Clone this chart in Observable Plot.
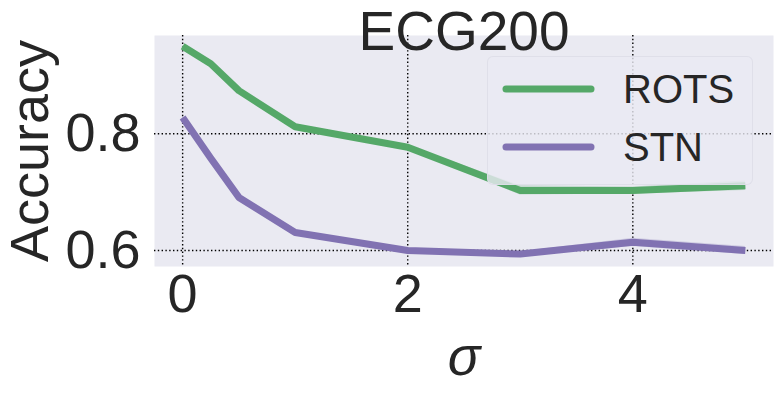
<!DOCTYPE html>
<html>
<head>
<meta charset="utf-8">
<script src="https://cdn.jsdelivr.net/npm/d3@7"></script>
<script src="https://cdn.jsdelivr.net/npm/@observablehq/plot@0.6"></script>
<style>
  html, body { margin: 0; padding: 0; background: #fff; }
  #wrap { position: relative; width: 783px; height: 393px; font-family: "Liberation Sans", Arial, sans-serif; color: #262626; }
  #legend { position: absolute; left: 487px; top: 56px; width: 264px; height: 127px;
    background: rgba(234,234,242,0.8); border: 1px solid rgba(222,222,232,0.9); border-radius: 6px; }
  .item { position: absolute; left: 0; height: 58px; width: 264px; }
  .item svg { position: absolute; left: 0; top: 0; }
  .item span { position: absolute; left: 135px; font-size: 40px; line-height: 40px; }
</style>
</head>
<body>
<div id="wrap"></div>
<script>
const sigma = [0, 0.25, 0.5, 1, 2, 3, 4, 5];
const rots = [0.950, 0.920, 0.874, 0.812, 0.777, 0.703, 0.703, 0.711];
const stn = [0.828, 0.758, 0.691, 0.631, 0.600, 0.594, 0.614, 0.600];
const rotsErr = [0.002, 0.002, 0.002, 0.002, 0.003, 0.008, 0.006, 0.008];
const stnErr = [0.002, 0.002, 0.002, 0.002, 0.003, 0.004, 0.007, 0.007];
const seriesNames = ["ROTS", "STN"];
const seriesColors = ["#55A868", "#8172B2"];
const xTicks = [0, 2, 4];
const yTicks = [0.6, 0.8];
const title = "ECG200";
const xLabel = "σ";
const yLabel = "Accuracy";

const rows = [];
[rots, stn].forEach((vals, k) => {
  const err = k === 0 ? rotsErr : stnErr;
  sigma.forEach((s, i) => rows.push({series: seriesNames[k], sigma: s, acc: vals[i], lo: vals[i] - err[i], hi: vals[i] + err[i]}));
});

const chart = Plot.plot({
  width: 783,
  height: 393,
  marginLeft: 154,
  marginRight: 10,
  marginTop: 35,
  marginBottom: 127,
  style: {fontFamily: "'Liberation Sans', Arial, sans-serif", color: "#262626", background: "transparent", overflow: "visible"},
  x: {domain: [-0.25, 5.25]},
  y: {domain: [0.5726, 0.9685]},
  color: {domain: seriesNames, range: seriesColors},
  marks: [
    Plot.frame({fill: "#EAEAF2", stroke: null}),
    Plot.gridX(xTicks, {stroke: "#000", strokeOpacity: 1, strokeWidth: 1.4, strokeDasharray: "1.4,2.4"}),
    Plot.gridY(yTicks, {stroke: "#000", strokeOpacity: 1, strokeWidth: 1.4, strokeDasharray: "1.4,2.4"}),
    Plot.areaY(rows, {x: "sigma", y1: "lo", y2: "hi", z: "series", fill: "series", fillOpacity: 0.25}),
    Plot.line(rows, {x: "sigma", y: "acc", z: "series", stroke: "series", strokeWidth: 7, strokeLinejoin: "round", strokeLinecap: "butt"}),
    Plot.axisX(xTicks, {tickSize: 0, tickPadding: 7, fontSize: 54, label: xLabel, labelAnchor: "center", labelOffset: 108, labelArrow: "none"}),
    Plot.axisY(yTicks, {tickSize: 0, tickPadding: 14, fontSize: 54, tickFormat: d3.format(".1f"), label: yLabel, labelAnchor: "center", labelOffset: 145, labelArrow: "none"}),
    Plot.text([title], {frameAnchor: "top", dy: 14, lineAnchor: "bottom", fontSize: 55, fill: "#262626", text: d => d})
  ]
});

const wrap = document.getElementById("wrap");
wrap.appendChild(chart);

// italicize sigma label
chart.querySelectorAll("text").forEach(t => { if (t.textContent === xLabel) t.setAttribute("font-style", "italic"); });

const legend = document.createElement("div");
legend.id = "legend";
seriesNames.forEach((name, i) => {
  const item = document.createElement("div");
  item.className = "item";
  item.style.top = (3 + i * 58) + "px";
  item.innerHTML = `<svg width="120" height="58"><line x1="18" x2="103" y1="29" y2="29" stroke="${seriesColors[i]}" stroke-width="7" stroke-linecap="round"/></svg><span style="top:9px">${name}</span>`;
  legend.appendChild(item);
});
wrap.appendChild(legend);
</script>
</body>
</html>
